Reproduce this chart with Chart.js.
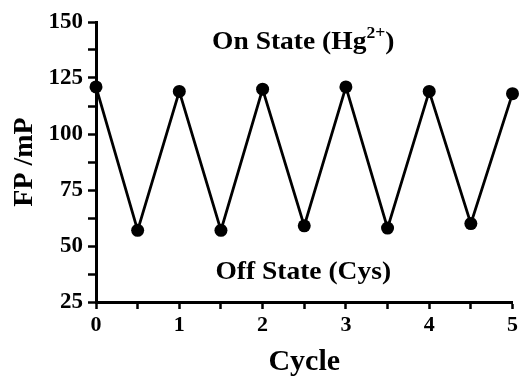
<!DOCTYPE html>
<html>
<head>
<meta charset="utf-8">
<script src="https://cdn.jsdelivr.net/npm/chart.js@4"></script>
<style>
  html, body { margin: 0; padding: 0; background: #fff; }
  #wrap { width: 521px; height: 376px; }
</style>
</head>
<body>
<div id="wrap"><canvas id="chartFP"></canvas></div>
<script>
const cycles = [0, 0.5, 1, 1.5, 2, 2.5, 3, 3.5, 4, 4.5, 5];
const fpValues = [121, 57, 119, 57, 120, 59, 121, 58, 119, 60, 118];
const yTicks = [25, 50, 75, 100, 125, 150];
const xTicks = [0, 1, 2, 3, 4, 5];

const FONT = '"Liberation Serif", "Times New Roman", serif';

// texto On/Off dentro del area (un poco ensanchado como en la figura)
const stateLabels = {
    id: 'stateLabels',
    afterDraw(chart) {
        const { ctx, chartArea } = chart;
        const cx = (chartArea.left + chartArea.right) / 2 - 1;
        const sx = 1.1;
        const big = 'bold 25px ' + FONT, small = 'bold 16px ' + FONT;
        ctx.save();
        ctx.fillStyle = '#000';
        ctx.textBaseline = 'alphabetic';

        ctx.font = small;
        const wsup = ctx.measureText('2+').width;
        ctx.font = big;
        const t1 = 'On State (Hg', t2 = ')';
        const w1 = ctx.measureText(t1).width, w2 = ctx.measureText(t2).width;
        ctx.save();
        ctx.translate(cx, 49);
        ctx.scale(sx, 1);
        let x = -(w1 + wsup + w2) / 2;
        ctx.fillText(t1, x, 0);
        x += w1;
        ctx.font = small;
        ctx.fillText('2+', x, -11);
        x += wsup;
        ctx.font = big;
        ctx.fillText(t2, x, 0);
        ctx.restore();

        ctx.translate(cx, 279);
        ctx.scale(sx, 1);
        ctx.font = big;
        ctx.textAlign = 'center';
        ctx.fillText('Off State (Cys)', 0, 0);
        ctx.restore();
    }
};

new Chart(document.getElementById('chartFP'), {
    type: 'line',
    data: {
        datasets: [{
            data: cycles.map((c, i) => ({ x: c, y: fpValues[i] })),
            borderColor: '#000', backgroundColor: '#000',
            borderWidth: 2.8, pointRadius: 6.5, pointBackgroundColor: '#000',
            pointBorderWidth: 0, tension: 0, clip: false
        }]
    },
    options: {
        responsive: true, maintainAspectRatio: false, animation: false,
        layout: { padding: { left: 0, right: 4, top: 22, bottom: 0 } },
        plugins: { legend: { display: false }, tooltip: { enabled: false } },
        scales: {
            x: {
                type: 'linear', min: 0, max: 5,
                afterBuildTicks: axis => {
                    axis.ticks = [];
                    for (let v = 0; v <= 10; v++) axis.ticks.push({ value: v / 2 });
                },
                afterFit: axis => { axis.height = 74; },
                ticks: {
                    color: '#000', padding: 3, maxRotation: 0, autoSkip: false,
                    font: { family: FONT, size: 22, weight: 'bold' },
                    callback: v => xTicks.includes(v) ? String(v) : ''
                },
                grid: { drawOnChartArea: false, drawTicks: true, tickLength: 7, tickWidth: 2.5, tickColor: '#000' },
                border: { color: '#000', width: 3 },
                title: {
                    display: true, text: 'Cycle', color: '#000',
                    font: { family: FONT, size: 30, weight: 'bold' }, padding: { top: 0, bottom: -4 }
                }
            },
            y: {
                min: 25, max: 150,
                afterBuildTicks: axis => {
                    axis.ticks = [];
                    for (let v = 25; v <= 150; v += 12.5) axis.ticks.push({ value: v });
                },
                afterFit: axis => { axis.width = 96; },
                ticks: {
                    color: '#000', padding: 5, autoSkip: false,
                    font: { family: FONT, size: 23, weight: 'bold' },
                    callback: v => yTicks.includes(v) ? String(v) : ''
                },
                grid: { drawOnChartArea: false, drawTicks: true, tickLength: 8, tickWidth: 2.5, tickColor: '#000' },
                border: { color: '#000', width: 3 },
                title: {
                    display: true, text: 'FP /mP', color: '#000',
                    font: { family: FONT, size: 28, weight: 'bold' }, padding: { top: 8, bottom: 0 }
                }
            }
        }
    },
    plugins: [stateLabels]
});
</script>
</body>
</html>
